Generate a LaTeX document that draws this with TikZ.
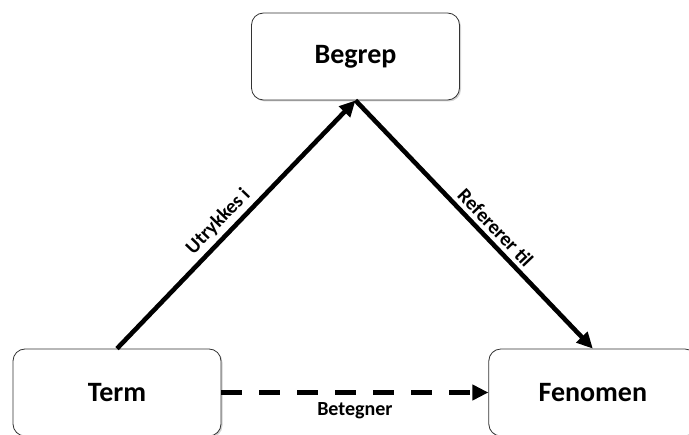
\documentclass[tikz,border=0pt]{standalone}
\usepackage{fontspec}
\setmainfont{Carlito}
\usetikzlibrary{arrows.meta,positioning,shadows}

\begin{document}
\begin{tikzpicture}[
      x=1pt, y=-1pt,
      mybox/.style={
         rectangle,
         rounded corners=12pt,
         draw=black!80,
         line width=0.8pt,
         fill=white,
         drop shadow={shadow xshift=1.5pt, shadow yshift=-1.5pt, opacity=0.35},
         minimum width=208pt,
         minimum height=87pt,
         font=\fontsize{28}{32}\selectfont\bfseries},
      myarrow/.style={-{Triangle[length=16pt,width=15pt]}, line width=4.6pt},
      mylabel/.style={font=\fontsize{20}{24}\selectfont\bfseries, inner sep=4pt},
      node distance=0pt and 267pt
      ]
\useasboundingbox (0,0) rectangle (689,435);
\clip (0,0) rectangle (689,435);

\node[mybox] (begrep) at (355.5,56.5) {Begrep};
\node[mybox] (term) at (117,392.5) {Term};
\node[mybox, right=of term] (fenomen) {Fenomen};

% solid arrows via the concept
\draw[myarrow] (term.north) -- node[mylabel, sloped, above, pos=0.47] {Utrykkes i} (begrep.south);
\draw[myarrow] (begrep.south) -- node[mylabel, sloped, above, pos=0.55] {Refererer til} (fenomen.north);
% dashed direct link
\draw[myarrow, dash pattern=on 21pt off 17pt] (term.east) -- node[mylabel, below=4pt] {Betegner} (fenomen.west);

\end{tikzpicture}
\end{document}
